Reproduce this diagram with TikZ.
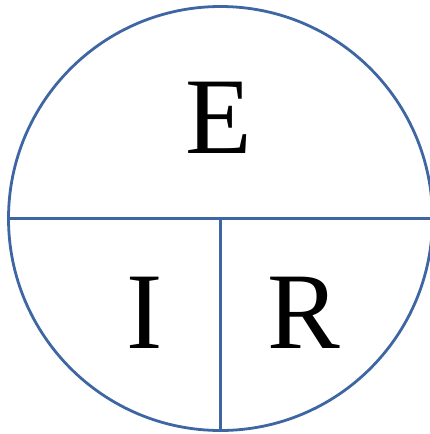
\documentclass[tikz,border=0pt]{standalone}
\usepackage{fontspec}
\setmainfont{Liberation Serif}
\usetikzlibrary{calc}
\definecolor{OhmBlue}{RGB}{62,102,163}
\tikzset{
  ohmline/.style={OhmBlue,line width=2.8pt},
  ohmletter/.style={font=\fontsize{109}{109}\selectfont,inner sep=0pt}
}

\begin{document}
\begin{tikzpicture}[x=1pt,y=-1pt]
  \useasboundingbox (0,0) rectangle (430,434);
  \clip (0,0) rectangle (430,434);
  \coordinate (O) at (220.5,218.5);
  \coordinate (W) at ($(O)+(-212,0)$);
  \coordinate (Ea) at ($(O)+(212,0)$);
  \coordinate (S) at ($(O)+(0,212)$);
  \draw[ohmline] (O) circle[radius=212];
  \draw[ohmline] (W) -- (Ea);
  \draw[ohmline] (O) -- (S);
  \node[ohmletter] (volt) at (219,118) {E};
  \node[ohmletter] (amp) at (145,313) {I};
  \node[ohmletter] (res) at (304,313) {R};
\end{tikzpicture}
\end{document}
